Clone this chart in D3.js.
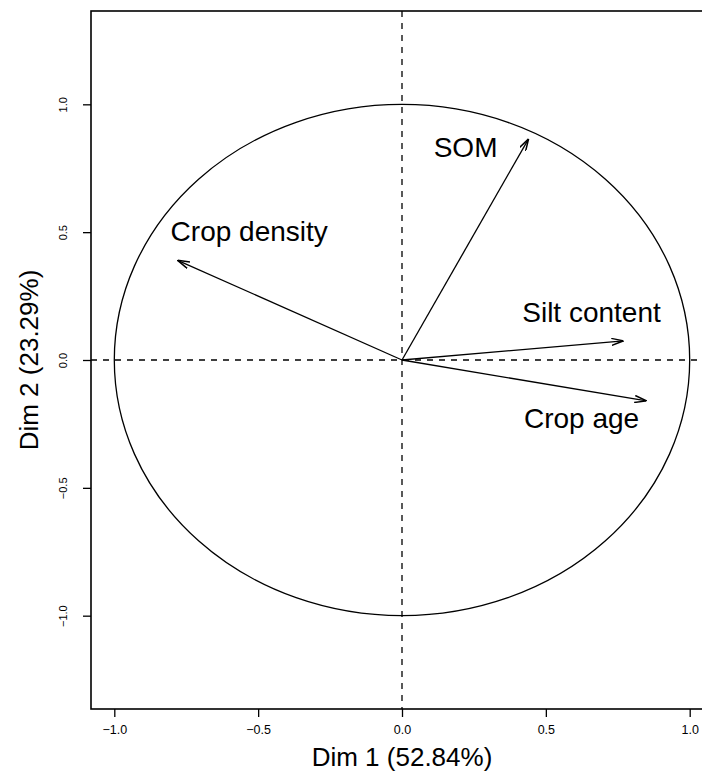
<!DOCTYPE html>
<html>
<head>
<meta charset="utf-8">
<script src="https://cdn.jsdelivr.net/npm/d3@7"></script>
<style>
  html, body { margin: 0; padding: 0; background: #fff; }
  svg { display: block; }
  text { font-family: "Liberation Sans", Arial, sans-serif; fill: #000; }
</style>
</head>
<body>
<svg id="chart" width="702" height="773"></svg>
<script>
// Variables factor map: correlation of each variable with the first two dimensions
const variables = ["SOM", "Crop density", "Silt content", "Crop age"];
const dim1 = [0.44, -0.78, 0.77, 0.85];
const dim2 = [0.865, 0.39, 0.075, -0.16];
const xTicks = [-1.0, -0.5, 0.0, 0.5, 1.0];
const yTicks = [-1.0, -0.5, 0.0, 0.5, 1.0];
const xTitle = "Dim 1 (52.84%)";
const yTitle = "Dim 2 (23.29%)";

(function () {
const svg = d3.select("#chart");
const boxL = 91, boxT = 11, boxR = 713, boxB = 709;

const x = d3.scaleLinear().domain([-1.081, 1.081]).range([boxL, boxR]);
const y = d3.scaleLinear().domain([-1.365, 1.365]).range([boxB, boxT]);

const defs = svg.append("defs");

// Clip region of the plotting box
defs.append("clipPath").attr("id", "plotclip")
  .append("rect").attr("x", boxL).attr("y", boxT)
  .attr("width", boxR - boxL).attr("height", boxB - boxT);

const plot = svg.append("g").attr("clip-path", "url(#plotclip)");

// Unit circle
plot.append("ellipse")
  .attr("cx", x(0)).attr("cy", y(0))
  .attr("rx", x(1) - x(0)).attr("ry", y(0) - y(1))
  .attr("fill", "none").attr("stroke", "#000").attr("stroke-width", 1.3);

// Reference lines through the origin
plot.append("line")
  .attr("x1", boxL).attr("x2", boxR).attr("y1", y(0)).attr("y2", y(0))
  .attr("stroke", "#000").attr("stroke-width", 1.3).attr("stroke-dasharray", "6,6");
plot.append("line")
  .attr("x1", x(0)).attr("x2", x(0)).attr("y1", boxT).attr("y2", boxB)
  .attr("stroke", "#000").attr("stroke-width", 1.3).attr("stroke-dasharray", "6,6");

// Arrow head marker
defs.append("marker")
  .attr("id", "arrowhead")
  .attr("viewBox", "0 0 12 8")
  .attr("refX", 12).attr("refY", 4)
  .attr("markerWidth", 12).attr("markerHeight", 8)
  .attr("markerUnits", "userSpaceOnUse")
  .attr("orient", "auto")
  .append("path")
  .attr("d", "M0,0.5 L12,4 L0,7.5")
  .attr("fill", "none").attr("stroke", "#000").attr("stroke-width", 1.5);

const rows = variables.map((name, i) => ({ name, d1: dim1[i], d2: dim2[i] }));

plot.selectAll("line.arrow").data(rows).enter().append("line")
  .attr("class", "arrow")
  .attr("x1", x(0)).attr("y1", y(0))
  .attr("x2", d => x(d.d1)).attr("y2", d => y(d.d2))
  .attr("stroke", "#000").attr("stroke-width", 1.3)
  .attr("marker-end", "url(#arrowhead)");

// Variable labels placed near each arrow tip
const labelShift = {
  "SOM": [-63, 18, "middle"],
  "Crop density": [-7, -19, "start"],
  "Silt content": [-32, -19, "middle"],
  "Crop age": [-65, 27, "middle"]
};
plot.selectAll("text.varlabel").data(rows).enter().append("text")
  .attr("class", "varlabel")
  .attr("x", d => x(d.d1) + labelShift[d.name][0])
  .attr("y", d => y(d.d2) + labelShift[d.name][1])
  .attr("text-anchor", d => labelShift[d.name][2])
  .attr("font-size", 28)
  .text(d => d.name);

// Plot frame
svg.append("rect")
  .attr("x", boxL).attr("y", boxT)
  .attr("width", boxR - boxL).attr("height", boxB - boxT)
  .attr("fill", "none").attr("stroke", "#000").attr("stroke-width", 1.6);

const fmt = d => d3.format(".1f")(d).replace("-", "\u2212");

// X axis
const xAxis = svg.append("g").attr("transform", `translate(0,${boxB})`)
  .call(d3.axisBottom(x).tickValues(xTicks).tickFormat(fmt).tickSize(8).tickPadding(8));
xAxis.select(".domain").remove();
xAxis.selectAll("line").attr("stroke", "#000").attr("stroke-width", 1.3);
xAxis.selectAll("text").attr("font-size", 12.5)
  .attr("font-family", "'Liberation Sans', Arial, sans-serif");

// Y axis with rotated tick labels
const yAxis = svg.append("g").attr("transform", `translate(${boxL},0)`)
  .call(d3.axisLeft(y).tickValues(yTicks).tickFormat(fmt).tickSize(8));
yAxis.select(".domain").remove();
yAxis.selectAll("line").attr("stroke", "#000").attr("stroke-width", 1.3);
yAxis.selectAll("text")
  .attr("x", null).attr("dy", null)
  .attr("transform", "translate(-28,0) rotate(-90)")
  .attr("text-anchor", "middle")
  .attr("dominant-baseline", "central")
  .attr("font-size", 11)
  .attr("font-family", "'Liberation Sans', Arial, sans-serif");

// Axis titles
svg.append("text")
  .attr("x", x(0)).attr("y", 766)
  .attr("text-anchor", "middle").attr("font-size", 26)
  .text(xTitle);
svg.append("text")
  .attr("transform", `translate(38,${y(0)}) rotate(-90)`)
  .attr("text-anchor", "middle").attr("font-size", 26)
  .text(yTitle);
})();
</script>
</body>
</html>
